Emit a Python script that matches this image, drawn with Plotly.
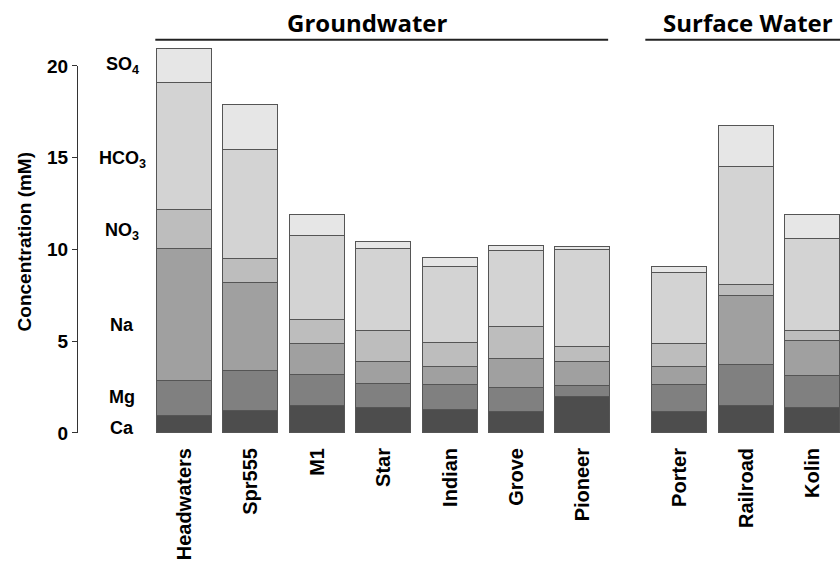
import plotly.graph_objects as go

# Sampling sites (groundwater first, then surface water)
sites = ["Headwaters", "Spr555", "M1", "Star", "Indian", "Grove", "Pioneer",
         "Porter", "Railroad", "Kolin"]
# x positions: a wider gap separates the two groups of sites
site_pos = [0, 1, 2, 3, 4, 5, 6, 7.46, 8.46, 9.46]

# Ion concentrations (mM), stacked bottom to top
ca = [0.94, 1.22, 1.49, 1.35, 1.25, 1.15, 1.98, 1.13, 1.49, 1.35]
mg = [1.91, 2.16, 1.67, 1.31, 1.39, 1.30, 0.57, 1.51, 2.22, 1.78]
na = [7.19, 4.79, 1.71, 1.23, 0.96, 1.60, 1.34, 0.94, 3.73, 1.89]
no3 = [2.09, 1.31, 1.26, 1.64, 1.33, 1.72, 0.82, 1.28, 0.63, 0.56]
hco3 = [6.95, 5.96, 4.58, 4.51, 4.14, 4.16, 5.27, 3.87, 6.42, 4.99]
so4 = [1.85, 2.42, 1.15, 0.34, 0.49, 0.27, 0.18, 0.34, 2.26, 1.32]

ions = ["Ca", "Mg", "Na", "NO<sub>3</sub>", "HCO<sub>3</sub>", "SO<sub>4</sub>"]
ion_values = [ca, mg, na, no3, hco3, so4]
ion_colors = ["#4d4d4d", "#808080", "#a0a0a0", "#bdbdbd", "#d3d3d3", "#e6e6e6"]
# vertical position of each ion name beside the axis
ion_label_y = [0.28, 1.95, 5.9, 10.97, 14.9, 20.0]

yticks = [0, 5, 10, 15, 20]
Y_MAX = 22.5

FONT = "Liberation Sans"

fig = go.Figure()
for name, vals, col in zip(ions, ion_values, ion_colors):
    fig.add_trace(go.Bar(
        x=site_pos, y=vals, name=name, width=0.83,
        marker=dict(color=col, line=dict(color="#555555", width=1)),
        showlegend=False,
    ))

# invisible trace that carries the visible value axis (0-20 only)
fig.add_trace(go.Scatter(x=[site_pos[0]], y=[0], yaxis="y2", mode="markers",
                         marker=dict(opacity=0), hoverinfo="skip", showlegend=False))

# ion names next to the y axis
for name, yv in zip(ions, ion_label_y):
    fig.add_annotation(x=-0.94, y=yv, xref="x", yref="y", text=f"<b>{name}</b>",
                       showarrow=False, font=dict(family=FONT, size=18, color="black"))

# group headers with underlines
fig.add_shape(type="line", xref="x", yref="y", x0=-0.44, x1=6.38, y0=21.42, y1=21.42,
              line=dict(color="#222222", width=2))
fig.add_shape(type="line", xref="x", yref="y", x0=6.94, x1=10.0, y0=21.42, y1=21.42,
              line=dict(color="#222222", width=2))
fig.add_annotation(x=2.76, y=22.35, xref="x", yref="y", text="<b>Groundwater</b>",
                   showarrow=False, font=dict(family="Open Sans", size=24, color="black"))
fig.add_annotation(x=8.49, y=22.35, xref="x", yref="y", text="<b>Surface Water</b>",
                   showarrow=False, font=dict(family="Open Sans", size=24, color="black"))

# y axis title
fig.add_annotation(x=-0.069, y=0.4625, xref="paper", yref="paper",
                   text="<b>Concentration (mM)</b>", textangle=-90, showarrow=False,
                   xanchor="center", yanchor="middle",
                   font=dict(family=FONT, size=19, color="black"))

fig.update_layout(
    width=840, height=561,
    margin=dict(l=78, r=0, t=20, b=128),
    plot_bgcolor="rgba(0,0,0,0)", paper_bgcolor="white",
    barmode="stack", bargap=0,
    font=dict(family=FONT, color="black"),
    xaxis=dict(
        range=[-1.604, 9.872], tickvals=site_pos,
        ticktext=[f"<b>{s}</b>" for s in sites],
        tickangle=-90, ticks="", showline=False, showgrid=False, zeroline=False,
        tickfont=dict(family=FONT, size=20, color="black"),
        ticklabelstandoff=10,
    ),
    yaxis=dict(
        range=[0, Y_MAX], showticklabels=False, ticks="",
        showline=False, showgrid=False, zeroline=False,
    ),
    yaxis2=dict(
        domain=[0, yticks[-1] / Y_MAX], range=[0, yticks[-1]], anchor="x",
        tickvals=yticks, ticktext=[f"<b>{t}</b>" for t in yticks],
        ticks="outside", ticklen=5, tickcolor="#333333", tickwidth=1,
        showline=True, linecolor="#333333", linewidth=1,
        showgrid=False, zeroline=False,
        tickfont=dict(family=FONT, size=19, color="black"),
    ),
)

fig.write_html("out.html")
